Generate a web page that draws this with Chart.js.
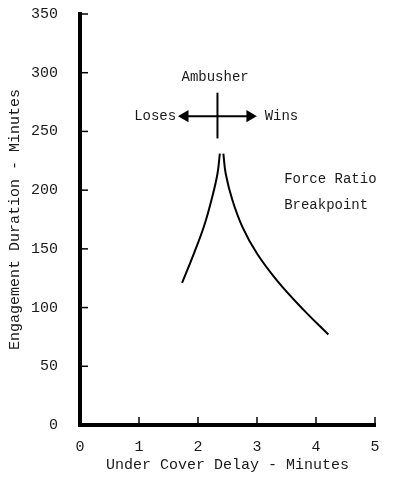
<!DOCTYPE html>
<html>
<head>
<meta charset="utf-8">
<script src="https://cdn.jsdelivr.net/npm/chart.js@4"></script>
<style>
  html, body { margin: 0; padding: 0; background: #fff; }
  #wrap { width: 393px; height: 480px; position: relative; }
</style>
</head>
<body>
<div id="wrap"><canvas id="chart"></canvas></div>
<script>
// curve: left branch (ambusher loses) and right branch (ambusher wins)
const leftX = [1.73, 1.93, 2.10, 2.24, 2.33, 2.37];
const leftY = [121, 146, 169, 194, 214, 231];
const rightX = [2.43, 2.47, 2.58, 2.75, 3.00, 3.34, 3.79, 4.21];
const rightY = [231, 214, 192, 169, 146, 123, 98, 77];

// the cross marker above the cusp
const crossV = [{ x: 2.33, y: 244 }, { x: 2.33, y: 283 }];
const crossH = [{ x: 1.78, y: 263 }, { x: 2.88, y: 263 }];

const xTicks = [0, 1, 2, 3, 4, 5];
const yTicks = [0, 50, 100, 150, 200, 250, 300, 350];

// annotations [text, x, y, align]
const notes = [
  ["Ambusher", 2.29, 296, "center"],
  ["Loses", 1.63, 263, "right"],
  ["Wins", 3.13, 263, "left"],
  ["Force Ratio", 3.46, 209, "left"],
  ["Breakpoint", 3.46, 187, "left"],
];

const FONT = "'Liberation Mono', 'DejaVu Sans Mono', monospace";
const INK = "#1a1a1a";

function toPts(xs, ys) {
  return xs.map((x, i) => ({ x: x, y: ys[i] }));
}

// short tick marks pointing into the plot + annotation text
const extras = {
  id: "extras",
  afterDatasetsDraw(chart) {
    const ctx = chart.ctx;
    const xs = chart.scales.x, ys = chart.scales.y;
    ctx.save();
    ctx.strokeStyle = "#000";
    ctx.lineWidth = 1.5;
    yTicks.forEach((v) => {
      if (v === 0) return;
      const py = ys.getPixelForValue(v);
      ctx.beginPath();
      ctx.moveTo(xs.left, py);
      ctx.lineTo(xs.left + 8, py);
      ctx.stroke();
    });
    xTicks.forEach((v) => {
      if (v === 0) return;
      const px = xs.getPixelForValue(v);
      ctx.beginPath();
      ctx.moveTo(px, ys.bottom);
      ctx.lineTo(px, ys.bottom - 8);
      ctx.stroke();
    });
    ctx.fillStyle = INK;
    ctx.font = "14px " + FONT;
    ctx.textBaseline = "middle";
    notes.forEach((n) => {
      ctx.textAlign = n[3];
      ctx.fillText(n[0], xs.getPixelForValue(n[1]), ys.getPixelForValue(n[2]));
    });
    ctx.restore();
  },
};

const lineStyle = {
  showLine: true,
  borderColor: "#000",
  borderWidth: 2,
  pointRadius: 0,
  tension: 0.4,
  fill: false,
};

new Chart(document.getElementById("chart"), {
  type: "scatter",
  data: {
    datasets: [
      Object.assign({ label: "loses", data: toPts(leftX, leftY) }, lineStyle),
      Object.assign({ label: "wins", data: toPts(rightX, rightY) }, lineStyle),
      Object.assign({ label: "cross v", data: crossV }, lineStyle, { tension: 0 }),
      {
        label: "cross h",
        data: crossH,
        showLine: true,
        borderColor: "#000",
        borderWidth: 2,
        backgroundColor: "#000",
        pointStyle: "triangle",
        pointRadius: 5,
        pointRotation: [-90, 90],
        tension: 0,
      },
    ],
  },
  options: {
    responsive: true,
    maintainAspectRatio: false,
    animation: false,
    events: [],
    layout: { padding: { top: 14, right: 18, left: 6, bottom: 0 } },
    plugins: {
      legend: { display: false },
      tooltip: { enabled: false },
    },
    scales: {
      x: {
        type: "linear",
        min: 0,
        max: 5,
        afterBuildTicks: (s) => { s.ticks = xTicks.map((v) => ({ value: v })); },
        afterFit: (s) => { s.height = 55; },
        grid: { color: "transparent", drawTicks: true, tickLength: 13 },
        border: { display: true, color: "#000", width: 4 },
        ticks: {
          padding: 0,
          color: INK,
          font: { family: FONT, size: 15 },
        },
        title: {
          display: true,
          text: "Under Cover Delay - Minutes",
          color: INK,
          font: { family: FONT, size: 15 },
          padding: { top: 0, bottom: 6 },
        },
      },
      y: {
        type: "linear",
        min: 0,
        max: 350,
        afterBuildTicks: (s) => { s.ticks = yTicks.map((v) => ({ value: v })); },
        afterFit: (s) => { s.width = 74; },
        grid: { color: "transparent", drawTicks: true, tickLength: 22 },
        border: { display: true, color: "#000", width: 4 },
        ticks: {
          padding: 0,
          color: INK,
          font: { family: FONT, size: 15 },
        },
        title: {
          display: true,
          text: "Engagement Duration - Minutes",
          color: INK,
          font: { family: FONT, size: 15 },
          padding: { top: 0, bottom: 0 },
        },
      },
    },
  },
  plugins: [extras],
});
</script>
</body>
</html>
